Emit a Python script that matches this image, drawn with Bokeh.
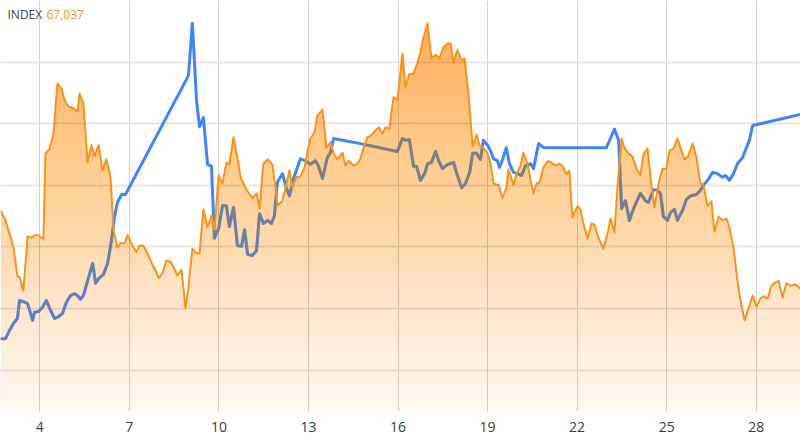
import numpy as np
from bokeh.plotting import figure
from bokeh.models import Range1d, FixedTicker, Label
from bokeh.embed import file_html
from bokeh.resources import INLINE

# ---------------- data ----------------
day_ticks = [4, 7, 10, 13, 16, 19, 22, 25, 28]
grid_levels = [10, 20, 30, 40, 50, 60]
legend_name = "INDEX"
legend_value = "67,037"

orange_day = [2.68, 2.85, 2.95, 3.12, 3.25, 3.32, 3.45, 3.59, 3.72, 3.82, 3.96, 4.12, 4.19, 4.32, 4.46,
              4.59, 4.73, 4.83, 4.96, 5.13, 5.26, 5.33, 5.46, 5.60, 5.73, 5.83, 5.97, 6.10, 6.23, 6.37,
              6.47, 6.60, 6.70, 6.84, 6.94, 7.11, 7.24, 7.34, 7.47, 7.61, 7.78, 7.88, 7.98, 8.11, 8.24,
              8.38, 8.48, 8.61, 8.75, 8.88, 8.98, 9.11, 9.22, 9.35, 9.48, 9.62, 9.75, 9.85, 9.99, 10.12,
              10.25, 10.35, 10.49, 10.62, 10.72, 10.89, 10.99, 11.12, 11.26, 11.36, 11.49, 11.63, 11.79,
              11.90, 11.96, 12.13, 12.23, 12.36, 12.46, 12.60, 12.73, 12.87, 12.97, 13.07, 13.20, 13.30,
              13.47, 13.60, 13.74, 13.84, 13.97, 14.14, 14.24, 14.34, 14.51, 14.64, 14.74, 14.84, 14.98,
              15.11, 15.24, 15.35, 15.48, 15.58, 15.71, 15.85, 15.98, 16.15, 16.25, 16.38, 16.52, 16.65,
              16.75, 16.85, 16.99, 17.12, 17.26, 17.39, 17.52, 17.66, 17.76, 17.86, 17.99, 18.13, 18.23,
              18.36, 18.50, 18.63, 18.73, 18.86, 19.00, 19.10, 19.20, 19.37, 19.50, 19.63, 19.70, 19.87,
              19.97, 20.10, 20.20, 20.34, 20.44, 20.54, 20.64, 20.74, 20.87, 21.01, 21.14, 21.28, 21.41,
              21.51, 21.64, 21.74, 21.84, 22.01, 22.11, 22.21, 22.35, 22.48, 22.58, 22.72, 22.88, 23.02,
              23.12, 23.25, 23.35, 23.49, 23.59, 23.72, 23.85, 23.99, 24.12, 24.22, 24.36, 24.49, 24.59,
              24.73, 24.86, 24.99, 25.09, 25.23, 25.36, 25.50, 25.60, 25.73, 25.87, 26.00, 26.13, 26.23,
              26.37, 26.50, 26.60, 26.74, 26.87, 27.00, 27.10, 27.24, 27.34, 27.47, 27.61, 27.74, 27.88,
              28.01, 28.14, 28.24, 28.38, 28.51, 28.64, 28.75, 28.88, 29.01, 29.15, 29.32, 29.48]
orange_val = [35.9, 34.3, 32.7, 29.9, 25.2, 25.2, 22.9, 31.7, 31.5, 31.9, 31.9, 31.2, 45.2, 45.8, 48.4,
              56.5, 55.7, 53.8, 52.8, 52.5, 52.0, 54.9, 53.3, 43.7, 46.5, 44.7, 46.5, 42.4, 44.2, 41.3,
              32.7, 29.9, 30.6, 30.6, 31.9, 30.2, 29.1, 30.2, 30.2, 28.9, 27.0, 26.2, 24.9, 25.7, 27.8,
              27.6, 26.7, 25.4, 26.3, 20.0, 23.4, 29.7, 29.1, 28.9, 36.1, 33.2, 35.1, 32.7, 41.6, 40.3,
              43.7, 43.4, 47.8, 44.5, 41.4, 39.6, 38.8, 37.9, 38.7, 36.2, 43.5, 44.2, 43.4,
              39.6, 36.7, 37.5, 39.6, 42.4, 39.6, 41.4, 41.4, 42.9, 45.6, 47.6, 48.6, 51.3,
              52.3, 46.1, 47.0, 45.2, 44.2, 45.3, 43.2, 44.0, 43.2, 43.5, 44.3, 46.0, 47.8,
              48.1, 48.9, 49.4, 48.4, 49.4, 49.2, 54.3, 53.8, 61.4, 55.9, 58.1, 58.1, 59.9,
              61.6, 64.0, 66.3, 60.6, 61.2, 60.6, 62.4, 63.0, 63.0, 59.9, 62.0, 60.3, 60.6,
              54.9, 46.3, 48.2, 46.5, 46.1, 45.2, 43.5, 40.3, 40.0, 37.9, 39.6, 42.6, 40.0,
              41.9, 43.1, 45.3, 43.5, 40.8, 38.7, 40.3, 40.5, 42.9, 43.9, 43.7, 43.2, 43.5,
              43.2, 41.8, 42.4, 34.8, 36.6, 36.1, 33.8, 31.4, 33.8, 33.6, 31.4, 29.7, 32.2,
              34.6, 32.3, 39.6, 47.6, 46.0, 45.2, 44.7, 42.7, 41.6, 45.0, 46.0, 40.0, 36.4,
              40.3, 42.7, 42.7, 45.6, 46.0, 47.6, 45.6, 44.2, 44.8, 46.8, 44.5, 40.3, 40.1,
              36.6, 37.4, 32.5, 34.9, 34.3, 34.6, 33.2, 29.9, 25.7, 21.3, 18.1, 20.0, 22.1,
              20.3, 21.6, 22.0, 21.6, 23.7, 24.2, 24.5, 21.8, 24.1, 23.7, 23.9, 23.2]

blue_day = [2.68, 2.85, 2.98, 3.12, 3.25, 3.32, 3.45, 3.59, 3.76, 3.82, 3.96, 4.09, 4.22, 4.36, 4.49,
            4.63, 4.76, 4.89, 5.03, 5.16, 5.26, 5.36, 5.46, 5.60, 5.77, 5.87, 6.00, 6.13, 6.27, 6.40,
            6.50, 6.60, 6.74, 6.87, 8.98, 9.11, 9.25, 9.35, 9.48, 9.62, 9.75, 9.85, 9.99, 10.12, 10.25,
            10.35, 10.49, 10.62, 10.76, 10.86, 10.96, 11.12, 11.26, 11.36, 11.49, 11.63, 11.76, 11.86,
            11.96, 12.13, 12.26, 12.36, 12.50, 12.73, 12.90, 13.07, 13.23, 13.33, 13.47, 13.63, 13.74,
            13.84, 14.91, 15.98, 16.15, 16.25, 16.38, 16.52, 16.62, 16.75, 16.89, 16.99, 17.12, 17.26,
            17.36, 17.49, 17.66, 17.86, 17.99, 18.13, 18.26, 18.40, 18.50, 18.63, 18.76, 18.86, 19.00,
            19.10, 19.20, 19.33, 19.40, 19.50, 19.63, 19.73, 19.87, 20.00, 20.14, 20.27, 20.44, 20.54,
            20.71, 20.87, 22.98, 23.25, 23.39, 23.49, 23.62, 23.75, 23.89, 24.12, 24.29, 24.39, 24.56,
            24.69, 24.79, 24.89, 25.03, 25.13, 25.26, 25.36, 25.53, 25.66, 25.80, 26.00, 26.13, 26.23,
            26.37, 26.54, 26.70, 26.87, 26.97, 27.10, 27.24, 27.37, 27.54, 27.67, 27.77, 27.88, 29.48]
blue_val = [15.1, 15.1, 16.4, 17.6, 18.4, 21.3, 21.1, 20.8, 18.1, 19.4, 19.5, 20.2, 21.3, 19.7, 18.4,
            18.7, 19.2, 21.0, 22.1, 22.4, 22.1, 21.5, 22.1, 24.5, 27.3, 24.1, 25.0, 25.5, 27.3, 31.0,
            34.8, 37.2, 38.5, 38.5, 57.8, 66.3, 53.8, 49.5, 51.0, 43.4, 43.1, 31.4, 33.0, 36.7, 36.7,
            33.3, 36.4, 30.2, 30.1, 32.8, 28.8, 28.6, 29.4, 35.4, 33.8, 34.3, 33.8, 35.1,
            40.5, 41.9, 39.5, 38.3, 41.1, 44.3, 44.0, 43.4, 44.0, 43.2, 41.1, 44.5, 45.3,
            47.6, 46.6, 45.5, 47.6, 47.3, 47.4, 43.1, 43.1, 40.8, 41.9, 43.5, 43.7, 45.5,
            44.0, 42.7, 43.4, 43.7, 41.6, 39.6, 40.3, 42.1, 45.2, 45.2, 44.2, 47.3, 46.5,
            45.6, 44.3, 44.0, 42.9, 44.2, 46.1, 43.5, 42.1, 41.9, 41.6, 43.2, 43.5, 42.7,
            46.8, 46.1, 46.1, 49.1, 47.3, 36.2, 37.5, 34.3, 36.2, 38.7, 37.5, 37.2, 39.3,
            39.2, 38.7, 34.9, 34.3, 35.6, 36.1, 34.3, 35.9, 37.7, 38.3, 38.5, 39.2, 40.0,
            40.8, 42.1, 41.9, 41.3, 41.6, 40.8, 41.9, 43.5, 44.5, 46.1, 47.3, 49.7, 51.5]

# ---------------- styles ----------------
ORANGE = "#f7931a"
BLUE = "#4285f4"
FONT = "Open Sans"

x_lo, x_hi = 2.683, 29.483
y_lo, y_hi = 3.28, 70.0

p = figure(frame_width=800, frame_height=411,
           x_range=Range1d(x_lo, x_hi), y_range=Range1d(y_lo, y_hi),
           y_axis_location=None,
           output_backend="svg", toolbar_location=None,
           min_border_left=0, min_border_right=0, min_border_top=0, min_border_bottom=34)
p.outline_line_color = None
p.background_fill_color = "white"
p.border_fill_color = "white"

p.xaxis.ticker = FixedTicker(ticks=day_ticks)
p.xaxis.axis_line_color = None
p.xaxis.major_tick_line_color = None
p.xaxis.minor_tick_line_color = None
p.xaxis.major_tick_out = 0
p.xaxis.major_tick_in = 0
p.xaxis.major_label_standoff = 10
p.xaxis.major_label_text_font = FONT
p.xaxis.major_label_text_font_size = "14px"
p.xaxis.major_label_text_color = "#3a3a3a"

p.xgrid.ticker = FixedTicker(ticks=day_ticks)
p.xgrid.grid_line_color = "#d2d2d2"
p.xgrid.grid_line_width = 1
p.ygrid.ticker = FixedTicker(ticks=grid_levels)
p.ygrid.grid_line_color = "#e0e0e0"
p.ygrid.grid_line_width = 1.6

# blue series (drawn beneath the translucent orange area)
p.line(blue_day, blue_val, line_color=BLUE, line_width=3, line_join="round")

# orange area with a vertical alpha gradient, built from stacked translucent layers
ox = np.array(orange_day)
oy = np.array(orange_val)

def target_alpha(v):
    return float(np.clip(0.62 - 0.008316 * (70.0 - v), 0.04, 0.7))

levels = np.linspace(y_lo, max(orange_val), 70)
prev = 0.0
for lv in levels:
    a_t = target_alpha(lv)
    a = 1.0 - (1.0 - a_t) / (1.0 - prev)
    prev = a_t
    p.varea(x=ox, y1=np.full_like(oy, lv), y2=np.maximum(oy, lv),
            fill_color=ORANGE, fill_alpha=a)

p.line(orange_day, orange_val, line_color=ORANGE, line_width=2, line_join="round")

# legend text (top-left)
p.add_layout(Label(x=x_lo, y=67.65, x_offset=7, text=legend_name, text_font=FONT,
                   text_font_size="12px", text_color="#444444", text_baseline="middle"))
p.add_layout(Label(x=x_lo, y=67.65, x_offset=46, text=legend_value, text_font=FONT,
                   text_font_size="12px", text_color=ORANGE, text_baseline="middle"))

open("out.html", "w").write(file_html(p, INLINE))
